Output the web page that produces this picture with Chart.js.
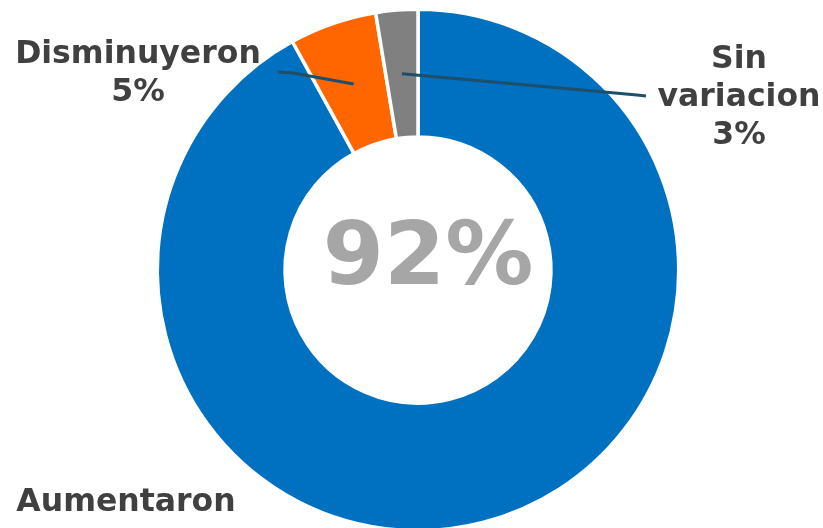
<!DOCTYPE html>
<html>
<head>
<meta charset="utf-8">
<script src="https://cdn.jsdelivr.net/npm/chart.js@4/dist/chart.umd.min.js"></script>
<style>
  html, body { margin: 0; padding: 0; background: #fff; overflow: hidden; }
  canvas { display: block; }
</style>
</head>
<body>
<canvas id="chart_variacion" width="823" height="540"></canvas>
<script>
const CATEGORIES = ["Aumentaron", "Disminuyeron", "Sin variacion"];
const VALUES = [92.0, 5.4, 2.6];
const COLORS = ["#0070C0", "#FF6600", "#808080"];

const TEXT_COLOR = "#404040";
const LINE_COLOR = "#1B4F6B";
const FONT = "'DejaVu Sans', Verdana, sans-serif";

// label layout: text lines, centre x, first line y, and leader line bend/end
const LABEL_LAYOUT = [
    { lines: (pct) => ["Aumentaron"], x: 126, y: 503, leader: null },
    { lines: (pct) => ["Disminuyeron", pct], x: 138, y: 55, leader: [[293, 73], [278, 72]] },
    { lines: (pct) => ["Sin", "variacion", pct], x: 739, y: 60, leader: [[637, 95], [646, 96]] },
];

const labelsPlugin = {
    id: "labelsPlugin",
    afterDraw(chart) {
        const ctx = chart.ctx;
        const meta = chart.getDatasetMeta(0);
        const total = VALUES.reduce((a, b) => a + b, 0);

        ctx.save();
        // centre figure
        ctx.fillStyle = "#A6A6A6";
        ctx.font = "bold 88px " + FONT;
        ctx.textAlign = "center";
        ctx.textBaseline = "middle";
        const mainPct = Math.round((VALUES[0] / total) * 100) + "%";
        ctx.fillText(mainPct, meta.data[0].x + 10, meta.data[0].y - 9);

        meta.data.forEach((arc, i) => {
            const layout = LABEL_LAYOUT[i];
            const pct = Math.round((VALUES[i] / total) * 100) + "%";
            if (layout.leader) {
                const p = arc.tooltipPosition();
                ctx.strokeStyle = LINE_COLOR;
                ctx.lineWidth = 3;
                ctx.beginPath();
                ctx.moveTo(p.x, p.y);
                layout.leader.forEach((pt) => ctx.lineTo(pt[0], pt[1]));
                ctx.stroke();
            }
            ctx.fillStyle = TEXT_COLOR;
            ctx.font = "bold 31.5px " + FONT;
            layout.lines(pct).forEach((txt, j) => {
                ctx.fillText(txt, layout.x, layout.y + j * 38);
            });
        });
        ctx.restore();
    },
};

const ctx = document.getElementById("chart_variacion");
const variacionChart = new Chart(ctx, {
    type: "doughnut",
    data: {
        labels: CATEGORIES,
        datasets: [
            {
                data: VALUES,
                backgroundColor: COLORS,
                borderColor: "#FFFFFF",
                borderWidth: 3.5,
            },
        ],
    },
    options: {
        responsive: false,
        animation: false,
        cutout: "51%",
        layout: {
            padding: { top: 7.5, bottom: 7.5, left: 13, right: 0 },
        },
        plugins: {
            legend: { display: false },
            tooltip: { enabled: false },
        },
    },
    plugins: [labelsPlugin],
});
</script>
</body>
</html>
